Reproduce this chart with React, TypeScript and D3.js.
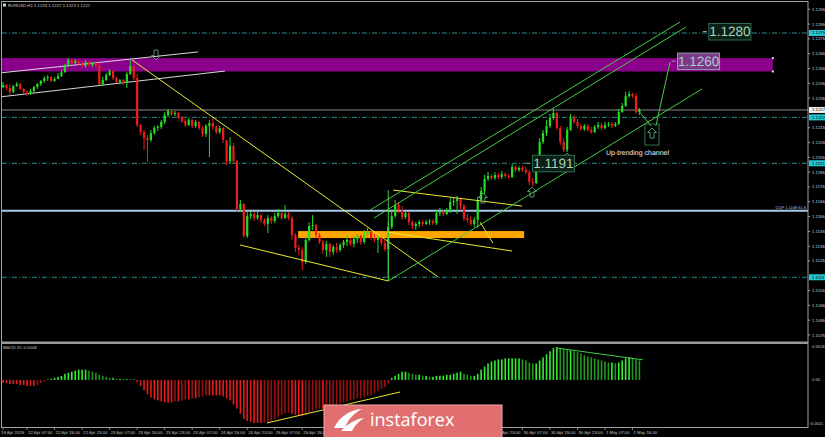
import React from "react";
import * as d3 from "d3";

const W = 825;
const H = 437;

// ---- EURUSD H1 candles (bar index 0..185) ----
const firstOpen = 1.12425;
const closes = [
  1.12439, 1.12418, 1.12391, 1.12432, 1.12445, 1.12412, 1.12391, 1.12378, 1.12398, 1.12425,
  1.12445, 1.12466, 1.12486, 1.12493, 1.12466, 1.12479, 1.12499, 1.12526, 1.12567, 1.12608,
  1.12587, 1.12601, 1.12581, 1.12567, 1.12594, 1.12574, 1.12587, 1.12567, 1.12445, 1.12472,
  1.12506, 1.12533, 1.12486, 1.12459, 1.12472, 1.12452, 1.12513, 1.12567, 1.12486, 1.12168,
  1.12121, 1.12081, 1.12067, 1.12114, 1.12148, 1.12155, 1.12189, 1.12236, 1.12263, 1.12243,
  1.1225, 1.12222, 1.12195, 1.12168, 1.12202, 1.12162, 1.12189, 1.12148, 1.12108, 1.12162,
  1.12182, 1.12155, 1.12121, 1.12148, 1.12067, 1.11925, 1.12027, 1.11925, 1.11601, 1.11635,
  1.11419, 1.11554, 1.11567, 1.1154, 1.1156, 1.11527, 1.115, 1.1154, 1.1152, 1.11554,
  1.11574, 1.1154, 1.11567, 1.1154, 1.11425, 1.11338, 1.11324, 1.11243, 1.11392, 1.11486,
  1.11493, 1.11425, 1.11378, 1.11324, 1.11365, 1.11311, 1.11344, 1.11324, 1.11358, 1.11378,
  1.11392, 1.11365, 1.11398, 1.11419, 1.11378, 1.11432, 1.11446, 1.11405, 1.11392, 1.11412,
  1.11371, 1.11331, 1.11479, 1.11554, 1.11628, 1.11594, 1.11547, 1.11574, 1.11513, 1.11486,
  1.115, 1.11513, 1.115, 1.11513, 1.1152, 1.11506, 1.11574, 1.11581, 1.11567, 1.11588,
  1.11648, 1.11655, 1.11669, 1.11621, 1.1154, 1.11527, 1.115, 1.11527, 1.11662, 1.11723,
  1.11804, 1.11824, 1.1181, 1.11831, 1.11817, 1.11837, 1.11824, 1.11817, 1.11885, 1.11864,
  1.11878, 1.11864, 1.11851, 1.11783, 1.11777, 1.11871, 1.12054, 1.12114, 1.12162, 1.12216,
  1.1225, 1.12148, 1.12054, 1.12, 1.12135, 1.12216, 1.12189, 1.12162, 1.12141, 1.12162,
  1.12135, 1.12121, 1.12155, 1.12168, 1.12148, 1.12168, 1.12175, 1.12162, 1.12175, 1.12256,
  1.12297, 1.12364, 1.12378, 1.12364, 1.12256, 1.1227,
];
const highs = [
  1.12459, 1.12445, 1.12445, 1.12439, 1.12459, 1.12452, 1.12418, 1.12405, 1.12412, 1.12432,
  1.12452, 1.12472, 1.12499, 1.12506, 1.12499, 1.12493, 1.1252, 1.1254, 1.12581, 1.12621,
  1.12614, 1.12614, 1.12608, 1.12601, 1.12608, 1.12601, 1.12594, 1.12594, 1.12581, 1.12493,
  1.1252, 1.12547, 1.1254, 1.12493, 1.12479, 1.12479, 1.12526, 1.12608, 1.12574, 1.12513,
  1.12175, 1.12135, 1.12101, 1.12135, 1.12162, 1.12168, 1.12202, 1.12256, 1.12277, 1.1227,
  1.12263, 1.12256, 1.12229, 1.12209, 1.12216, 1.12209, 1.12202, 1.12195, 1.12162, 1.12175,
  1.12202, 1.12216, 1.12168, 1.12162, 1.12155, 1.12067, 1.12087, 1.12047, 1.11932, 1.11662,
  1.11642, 1.11581, 1.11588, 1.11581, 1.11581, 1.11567, 1.1154, 1.1156, 1.11554, 1.11574,
  1.11601, 1.11588, 1.11628, 1.11581, 1.11554, 1.11439, 1.11358, 1.11344, 1.11419, 1.11513,
  1.1156, 1.115, 1.11439, 1.11392, 1.11385, 1.11371, 1.11358, 1.11371, 1.11371, 1.11392,
  1.11425, 1.11405, 1.11419, 1.11432, 1.11425, 1.11459, 1.11473, 1.11459, 1.11432, 1.11432,
  1.11419, 1.11392, 1.11513, 1.11581, 1.11662, 1.11648, 1.11621, 1.11588, 1.11581, 1.11527,
  1.11513, 1.11527, 1.11527, 1.11527, 1.11533, 1.11533, 1.11594, 1.11608, 1.11594, 1.11608,
  1.11675, 1.11675, 1.11689, 1.11675, 1.11635, 1.11567, 1.11554, 1.11547, 1.11682, 1.1175,
  1.11831, 1.11851, 1.11837, 1.11851, 1.11844, 1.11858, 1.11851, 1.11837, 1.11905, 1.11898,
  1.11891, 1.11891, 1.11885, 1.11864, 1.1181, 1.11891, 1.12081, 1.12135, 1.12202, 1.12243,
  1.12277, 1.12256, 1.12162, 1.12081, 1.12155, 1.12243, 1.12236, 1.12209, 1.12175, 1.12175,
  1.12175, 1.12155, 1.12168, 1.12189, 1.12182, 1.12189, 1.12189, 1.12189, 1.12189, 1.12277,
  1.12317, 1.12391, 1.12398, 1.12385, 1.12385, 1.12283,
];
const lows = [
  1.12418, 1.12405, 1.12371, 1.12385, 1.12425, 1.12405, 1.12378, 1.12364, 1.12371, 1.12385,
  1.12412, 1.12432, 1.12452, 1.12466, 1.12459, 1.12459, 1.12479, 1.12493, 1.1252, 1.1256,
  1.12581, 1.12581, 1.12574, 1.1256, 1.12554, 1.1256, 1.1256, 1.1256, 1.12439, 1.12432,
  1.12466, 1.12499, 1.12472, 1.12452, 1.12445, 1.12439, 1.12418, 1.12506, 1.12472, 1.12155,
  1.12101, 1.12, 1.11918, 1.12054, 1.12101, 1.12128, 1.12141, 1.12175, 1.12222, 1.12229,
  1.12229, 1.12209, 1.12182, 1.12155, 1.12162, 1.12148, 1.12148, 1.12135, 1.12087, 1.12087,
  1.11952, 1.12135, 1.12108, 1.12108, 1.12047, 1.11898, 1.11905, 1.11912, 1.11588, 1.11581,
  1.11405, 1.11405, 1.11533, 1.1152, 1.11527, 1.11506, 1.11486, 1.11439, 1.115, 1.11506,
  1.1154, 1.11527, 1.11533, 1.11527, 1.11392, 1.11311, 1.1129, 1.11189, 1.1123, 1.11378,
  1.11459, 1.11405, 1.11365, 1.11297, 1.11277, 1.11277, 1.1129, 1.11304, 1.11311, 1.11338,
  1.11351, 1.11351, 1.11344, 1.11371, 1.11358, 1.11365, 1.11405, 1.11392, 1.11378, 1.11304,
  1.11351, 1.11317, 1.11115, 1.11466, 1.1154, 1.11574, 1.11527, 1.11533, 1.11493, 1.11466,
  1.11459, 1.11479, 1.11486, 1.11493, 1.11493, 1.11493, 1.11493, 1.11554, 1.11554, 1.1156,
  1.11574, 1.11621, 1.11567, 1.11601, 1.1152, 1.11506, 1.11486, 1.11479, 1.11473, 1.11655,
  1.11702, 1.1179, 1.11797, 1.11797, 1.11804, 1.11804, 1.1181, 1.11804, 1.1181, 1.11851,
  1.11851, 1.11851, 1.11837, 1.11763, 1.11756, 1.1177, 1.11864, 1.1204, 1.12094, 1.12148,
  1.12202, 1.12135, 1.12033, 1.11986, 1.11986, 1.12128, 1.12175, 1.12148, 1.12128, 1.12128,
  1.12121, 1.12108, 1.12114, 1.12141, 1.12135, 1.12141, 1.12155, 1.12148, 1.12155, 1.12168,
  1.1225, 1.1229, 1.12351, 1.12351, 1.12243, 1.12236,
];

// ---- MACD 4C histogram ----
const macd = [
  -0.00015, -0.00015, -0.0002, -0.0002, -0.0002, -0.00025, -0.00025, -0.0003, -0.0003, -0.0003,
  -0.00025, -0.00015, -0.0001, 0.00002, 0.00005, 0.0001, 0.00015, 0.0002, 0.0003, 0.00035,
  0.0004, 0.00045, 0.0005, 0.0005, 0.0005, 0.00045, 0.0004, 0.00035, 0.00025, 0.0002,
  0.00015, 0.0001, 0.0001, 0.00005, 0.00005, 0.00004, 0.00004, 0.00003, 0.00003, -0.0001,
  -0.0003, -0.0005, -0.0007, -0.00085, -0.00095, -0.001, -0.00105, -0.0011, -0.0011, -0.0011,
  -0.00105, -0.00105, -0.001, -0.00095, -0.00095, -0.0009, -0.0009, -0.00085, -0.0008, -0.00075,
  -0.00075, -0.00075, -0.00075, -0.00075, -0.0008, -0.0009, -0.001, -0.0012, -0.0014, -0.00165,
  -0.0019, -0.002, -0.00205, -0.0021, -0.0021, -0.0021, -0.00208, -0.00205, -0.002, -0.0019,
  -0.0018, -0.0017, -0.00165, -0.0016, -0.00165, -0.0017, -0.00175, -0.00175, -0.0017, -0.0016,
  -0.0015, -0.00145, -0.0014, -0.0014, -0.00135, -0.0013, -0.00125, -0.0012, -0.00115, -0.0011,
  -0.00105, -0.001, -0.00095, -0.0009, -0.00088, -0.00083, -0.00078, -0.00073, -0.00065, -0.00055,
  -0.00045, -0.00035, -0.00018, 0.0001, 0.0002, 0.0003, 0.0004, 0.0004, 0.00035, 0.0003,
  0.00025, 0.00025, 0.0002, 0.0002, 0.00015, 0.00015, 0.0002, 0.0002, 0.0002, 0.00025,
  0.00025, 0.0003, 0.00035, 0.0004, 0.0003, 0.00025, 0.0002, 0.0002, 0.0003, 0.0005,
  0.00065, 0.0008, 0.0009, 0.00095, 0.001, 0.001, 0.00105, 0.00105, 0.00105, 0.00105,
  0.00105, 0.001, 0.00095, 0.00085, 0.0008, 0.0008, 0.00095, 0.0011, 0.00125, 0.0014,
  0.00155, 0.0016, 0.00155, 0.0015, 0.00145, 0.00145, 0.0014, 0.00135, 0.0013, 0.0012,
  0.00115, 0.0011, 0.00105, 0.001, 0.00095, 0.0009, 0.00085, 0.00085, 0.0008, 0.00085,
  0.00095, 0.00105, 0.0011, 0.00105, 0.001, 0.00095,
];

// ---- axes (labels hidden under the badge are not shown) ----
const timeLabels = [
  "19 Apr 2019", "22 Apr 07:00", "22 Apr 15:00", "22 Apr 23:00", "23 Apr 07:00", "23 Apr 15:00",
  "23 Apr 23:00", "24 Apr 07:00", "24 Apr 15:00", "24 Apr 23:00", "25 Apr 07:00", "25 Apr 15:00",
  "29 Apr 23:00", "30 Apr 07:00", "30 Apr 15:00", "30 Apr 23:00", "1 May 07:00", "1 May 15:00",
];
const timeLabelBars = [0, 7, 15, 23, 31, 39, 47, 55, 63, 71, 79, 87, 143, 151, 159, 167, 175, 183];
const priceTicks = [
  1.1295, 1.1285, 1.1275, 1.1265, 1.1255, 1.1245, 1.1235, 1.1215, 1.1205, 1.1195, 1.1185,
  1.1175, 1.1165, 1.1155, 1.1145, 1.1135, 1.1125, 1.1105, 1.1095, 1.1085, 1.1075,
];
const macdTicks = [0.0018, 0, -0.0021];
const macdTickLabels = ["0.0018", "0.00", "-0.0021"];

// ---- levels & drawn objects (bar index, price) ----
const dashLevels = [1.1279, 1.1222, 1.1191, 1.1114];
const cyanMarks = [1.1279, 1.1222, 1.1191, 1.1114];
const bidPrice = 1.1227;
const copPrice = 1.1159;
const purpleZone = [-3, 1.1262, 223.8, 1.1253];
const orangeZone = [85.8, 1.11452, 151.5, 1.11405];
const whiteLines = [
  [-0.9, 1.1252, 56.7, 1.12662],
  [-0.9, 1.12358, 64.5, 1.12533],
];
const yellowLines = [
  [37.5, 1.12608, 126.5, 1.11142],
  [68.9, 1.11358, 112, 1.11115],
  [113.4, 1.11729, 150.9, 1.11621],
  [111.6, 1.11446, 148, 1.11317],
  [138.7, 1.11513, 142.4, 1.11371],
];
const greenLines = [
  [112, 1.11115, 203.2, 1.12412],
  [106.7, 1.11594, 196.8, 1.12864],
  [107.8, 1.1154, 198.5, 1.1283],
  [112, 1.11729, 112, 1.11115],
  [184.6, 1.1227, 188.4, 1.12162],
  [189.8, 1.12162, 193.9, 1.12594],
];
const macdYellow = [76.7, -0.0021, 115.4, -0.00059];
const macdGreen = [160.8, 0.00156, 186, 0.00098];
const upArrows = [
  [139.5, 1.11709],
  [153.8, 1.1175],
  [164, 1.11979],
  [188.7, 1.12148],
];
const downArrows = [[44.5, 1.12675]];
const arrowBox = [186.6, 1.12175, 190.7, 1.12033];
const levelTags = [
  { text: "1.1280", i: 211.3, p: 1.128 },
  { text: "1.1260", i: 202.2, p: 1.126 },
  { text: "1.1191", i: 160, p: 1.1191 },
];
const channelNote = { text: "Up-trending channel", i: 175.3, p: 1.11986 };
const header = "EURUSD,H1  1.1223 1.1227 1.1223 1.1227";
const macdTitle = "MACD 4C 0.0008";
const copText = "COP 1.1159 61.8";

const FONT = "'Liberation Sans', Arial, sans-serif";

export default function App() {
  const x = d3.scaleLinear().domain([0, 185]).range([3, 639.4]);
  const y = d3.scaleLinear().domain([1.1075, 1.1295]).range([335, 9.3]);
  const ym = d3.scaleLinear().domain([-0.0021, 0.0018]).range([423, 343]);
  const lineGen = d3.line<[number, number]>();

  const bull = "#22dd22";
  const bear = "#ee1c1c";
  const axisText = "#c8c8c8";
  const seg = (l: number[], sy = y) => lineGen([[x(l[0]), sy(l[1])], [x(l[2]), sy(l[3])]]) as string;

  const upArrow = (cx: number, top: number) =>
    `M${cx},${top} L${cx + 4.5},${top + 4.5} L${cx + 2},${top + 4.5} L${cx + 2},${top + 10} L${cx - 2},${top + 10} L${cx - 2},${top + 4.5} L${cx - 4.5},${top + 4.5} Z`;
  const downArrow = (cx: number, top: number) =>
    `M${cx - 2},${top} L${cx + 2},${top} L${cx + 2},${top + 5.5} L${cx + 4.5},${top + 5.5} L${cx},${top + 10} L${cx - 4.5},${top + 5.5} L${cx - 2},${top + 5.5} Z`;

  return (
    <svg width={W} height={H} style={{ position: "absolute", left: 0, top: 0, display: "block" }} fontFamily={FONT} textRendering="geometricPrecision">
      <defs>
        <clipPath id="mainClip">
          <rect x={2} y={3} width={806} height={338} />
        </clipPath>
        <clipPath id="macdClip">
          <rect x={2} y={344} width={806} height={83} />
        </clipPath>
      </defs>
      <rect x={0} y={0} width={W} height={H} fill="#000" />

      {/* main pane */}
      <g clipPath="url(#mainClip)">
        <rect
          x={x(purpleZone[0])}
          y={y(purpleZone[1])}
          width={x(purpleZone[2]) - x(purpleZone[0])}
          height={y(purpleZone[3]) - y(purpleZone[1])}
          fill="#8b008b"
        />
        <rect x={x(purpleZone[2]) - 1} y={y(purpleZone[1]) - 1} width={2} height={2} fill="#ddd" />
        <rect x={x(purpleZone[2]) - 1} y={y(purpleZone[3]) - 1} width={2} height={2} fill="#ddd" />
        <rect
          x={x(orangeZone[0])}
          y={y(orangeZone[1])}
          width={x(orangeZone[2]) - x(orangeZone[0])}
          height={y(orangeZone[3]) - y(orangeZone[1])}
          fill="#ffa500"
        />
        {dashLevels.map((p, k) => (
          <line key={"dl" + k} x1={2} x2={808} y1={y(p)} y2={y(p)} stroke="#2a8a8a" strokeWidth={1} strokeDasharray="5 2 1 2" />
        ))}
        <line x1={2} x2={808} y1={y(bidPrice)} y2={y(bidPrice)} stroke="#8a8a8a" strokeWidth={1} />
        <line x1={2} x2={808} y1={y(copPrice)} y2={y(copPrice)} stroke="#a8c8e8" strokeWidth={2} />
        <text x={806} y={y(copPrice) - 2} fontSize={4} fill="#a8c8e8" textAnchor="end">{copText}</text>

        {whiteLines.map((l, k) => (
          <path key={"wl" + k} d={seg(l)} stroke="#d8d8d8" strokeWidth={1} fill="none" />
        ))}

        {closes.map((c, i) => {
          const o = i === 0 ? firstOpen : closes[i - 1];
          const up = c >= o;
          const col = up ? bull : bear;
          const yt = y(Math.max(o, c));
          const yb = y(Math.min(o, c));
          return (
            <g key={"c" + i}>
              <line x1={x(i)} x2={x(i)} y1={y(highs[i])} y2={y(lows[i])} stroke={col} strokeWidth={1} />
              <rect x={x(i) - 1.1} y={yt} width={2.2} height={Math.max(1, yb - yt)} fill={col} />
            </g>
          );
        })}

        {yellowLines.map((l, k) => (
          <path key={"yl" + k} d={seg(l)} stroke="#e8e830" strokeWidth={1} fill="none" />
        ))}
        {greenLines.map((l, k) => (
          <path key={"gl" + k} d={seg(l)} stroke="#44cc44" strokeWidth={1} fill="none" />
        ))}

        {upArrows.map((a, k) => (
          <path key={"ua" + k} d={upArrow(x(a[0]), y(a[1]))} stroke="#5ea87c" strokeWidth={0.9} fill="none" />
        ))}
        {downArrows.map((a, k) => (
          <path key={"da" + k} d={downArrow(x(a[0]), y(a[1]))} stroke="#6a9a80" strokeWidth={0.9} fill="none" />
        ))}
        <rect
          x={x(arrowBox[0])}
          y={y(arrowBox[1])}
          width={x(arrowBox[2]) - x(arrowBox[0])}
          height={y(arrowBox[3]) - y(arrowBox[1])}
          fill="none"
          stroke="#3f7f5c"
          strokeWidth={0.9}
        />

        {levelTags.map((t, k) => {
          const cx = x(t.i);
          const cy = y(t.p);
          const onPurple = t.p === 1.126;
          return (
            <g key={"lt" + k}>
              <line x1={cx - 27} x2={cx - 23} y1={cy} y2={cy} stroke="#9a9a9a" strokeWidth={1} />
              <rect
                x={cx - 21}
                y={cy - 8}
                width={42}
                height={16.5}
                fill={onPurple ? "#7a3a86" : "#0c1f16"}
                stroke={onPurple ? "#9c9cb4" : "#2f6f4f"}
                strokeWidth={1}
              />
              <text x={cx} y={cy + 4.8} fontSize={13.5} textAnchor="middle" fill={onPurple ? "#b4c8dc" : "#a8d4b8"}>
                {t.text}
              </text>
            </g>
          );
        })}
        <text x={x(channelNote.i)} y={y(channelNote.p) + 2.5} fontSize={7} fill="#f0f0f0">
          {channelNote.text}
        </text>
      </g>

      <rect x={3} y={3.5} width={3} height={3} fill="#ccc" />
      <text x={8} y={7.2} fontSize={4.3} fill={axisText}>{header}</text>

      {/* MACD pane */}
      <g clipPath="url(#macdClip)">
        {macd.map((v, i) => {
          const prev = i === 0 ? v : macd[i - 1];
          let col;
          if (v >= 0) col = v >= prev ? "#33ee33" : "#1f9a1f";
          else col = v <= prev ? "#e81a1a" : "#9a1010";
          const y0 = ym(0);
          const y1 = ym(v);
          return (
            <rect key={"m" + i} x={x(i) - 0.8} y={Math.min(y0, y1)} width={1.6} height={Math.max(0.6, Math.abs(y1 - y0))} fill={col} />
          );
        })}
        <path d={seg(macdYellow, ym)} stroke="#e8e830" strokeWidth={1} fill="none" />
        <path d={seg(macdGreen, ym)} stroke="#44cc44" strokeWidth={1} fill="none" />
      </g>
      <text x={3} y={349} fontSize={4.3} fill={axisText}>{macdTitle}</text>

      {/* frames */}
      <line x1={1} x2={808} y1={1.5} y2={1.5} stroke="#a0a0a0" strokeWidth={1} />
      <line x1={1.5} x2={1.5} y1={1} y2={428} stroke="#a0a0a0" strokeWidth={1} />
      <line x1={808} x2={808} y1={1} y2={428} stroke="#a0a0a0" strokeWidth={1} />
      <rect x={1} y={341.5} width={807} height={2.5} fill="#9a9a9a" />
      <line x1={1} x2={808} y1={427.5} y2={427.5} stroke="#a0a0a0" strokeWidth={1} />

      {/* price axis */}
      {priceTicks.map((p, k) => (
        <g key={"pt" + k}>
          <line x1={808} x2={810} y1={y(p)} y2={y(p)} stroke="#a0a0a0" strokeWidth={1} />
          <text x={812} y={y(p) + 1.5} fontSize={4.3} fill={axisText}>{p.toFixed(4)}</text>
        </g>
      ))}
      {cyanMarks.map((p, k) => (
        <g key={"cm" + k}>
          <rect x={809} y={y(p) - 3} width={16} height={6} fill="#22c8d8" />
          <text x={812} y={y(p) + 1.5} fontSize={4.3} fill="#000">{p.toFixed(4)}</text>
        </g>
      ))}
      <rect x={809} y={y(bidPrice) - 3} width={16} height={6} fill="#f0f0f0" />
      <text x={812} y={y(bidPrice) + 1.5} fontSize={4.3} fill="#000">{bidPrice.toFixed(4)}</text>

      {/* MACD axis */}
      {macdTicks.map((v, k) => (
        <text key={"mt" + k} x={k === 2 ? 809.5 : 812} y={k === 0 ? 347.5 : k === 2 ? 425 : ym(v) + 1.5} fontSize={4.1} fill={axisText}>
          {macdTickLabels[k]}
        </text>
      ))}

      {/* time axis */}
      {timeLabels.map((t, k) => (
        <g key={"tl" + k}>
          <line x1={x(timeLabelBars[k])} x2={x(timeLabelBars[k])} y1={428} y2={430} stroke="#a0a0a0" strokeWidth={0.8} />
          <text x={k === 0 ? 1 : x(timeLabelBars[k]) + 1} y={433.5} fontSize={4.3} fill={axisText}>{t}</text>
        </g>
      ))}

      {/* instaforex badge */}
      <g>
        <rect x={324} y={405} width={178} height={36} fill="#e26f6f" stroke="#f2a7a7" strokeWidth={1} />
        <path d="M334,428 C340,416 350,410 362,409 C354,413 348,419 345,428 Z" fill="#fff" />
        <path d="M341,431 C348,423 356,419 364,418 C358,422 354,426 352,431 Z" fill="#fff" />
        <text x={370} y={426} fontSize={18} fill="#fff" fontFamily="'Open Sans', sans-serif">instaforex</text>
      </g>
    </svg>
  );
}
